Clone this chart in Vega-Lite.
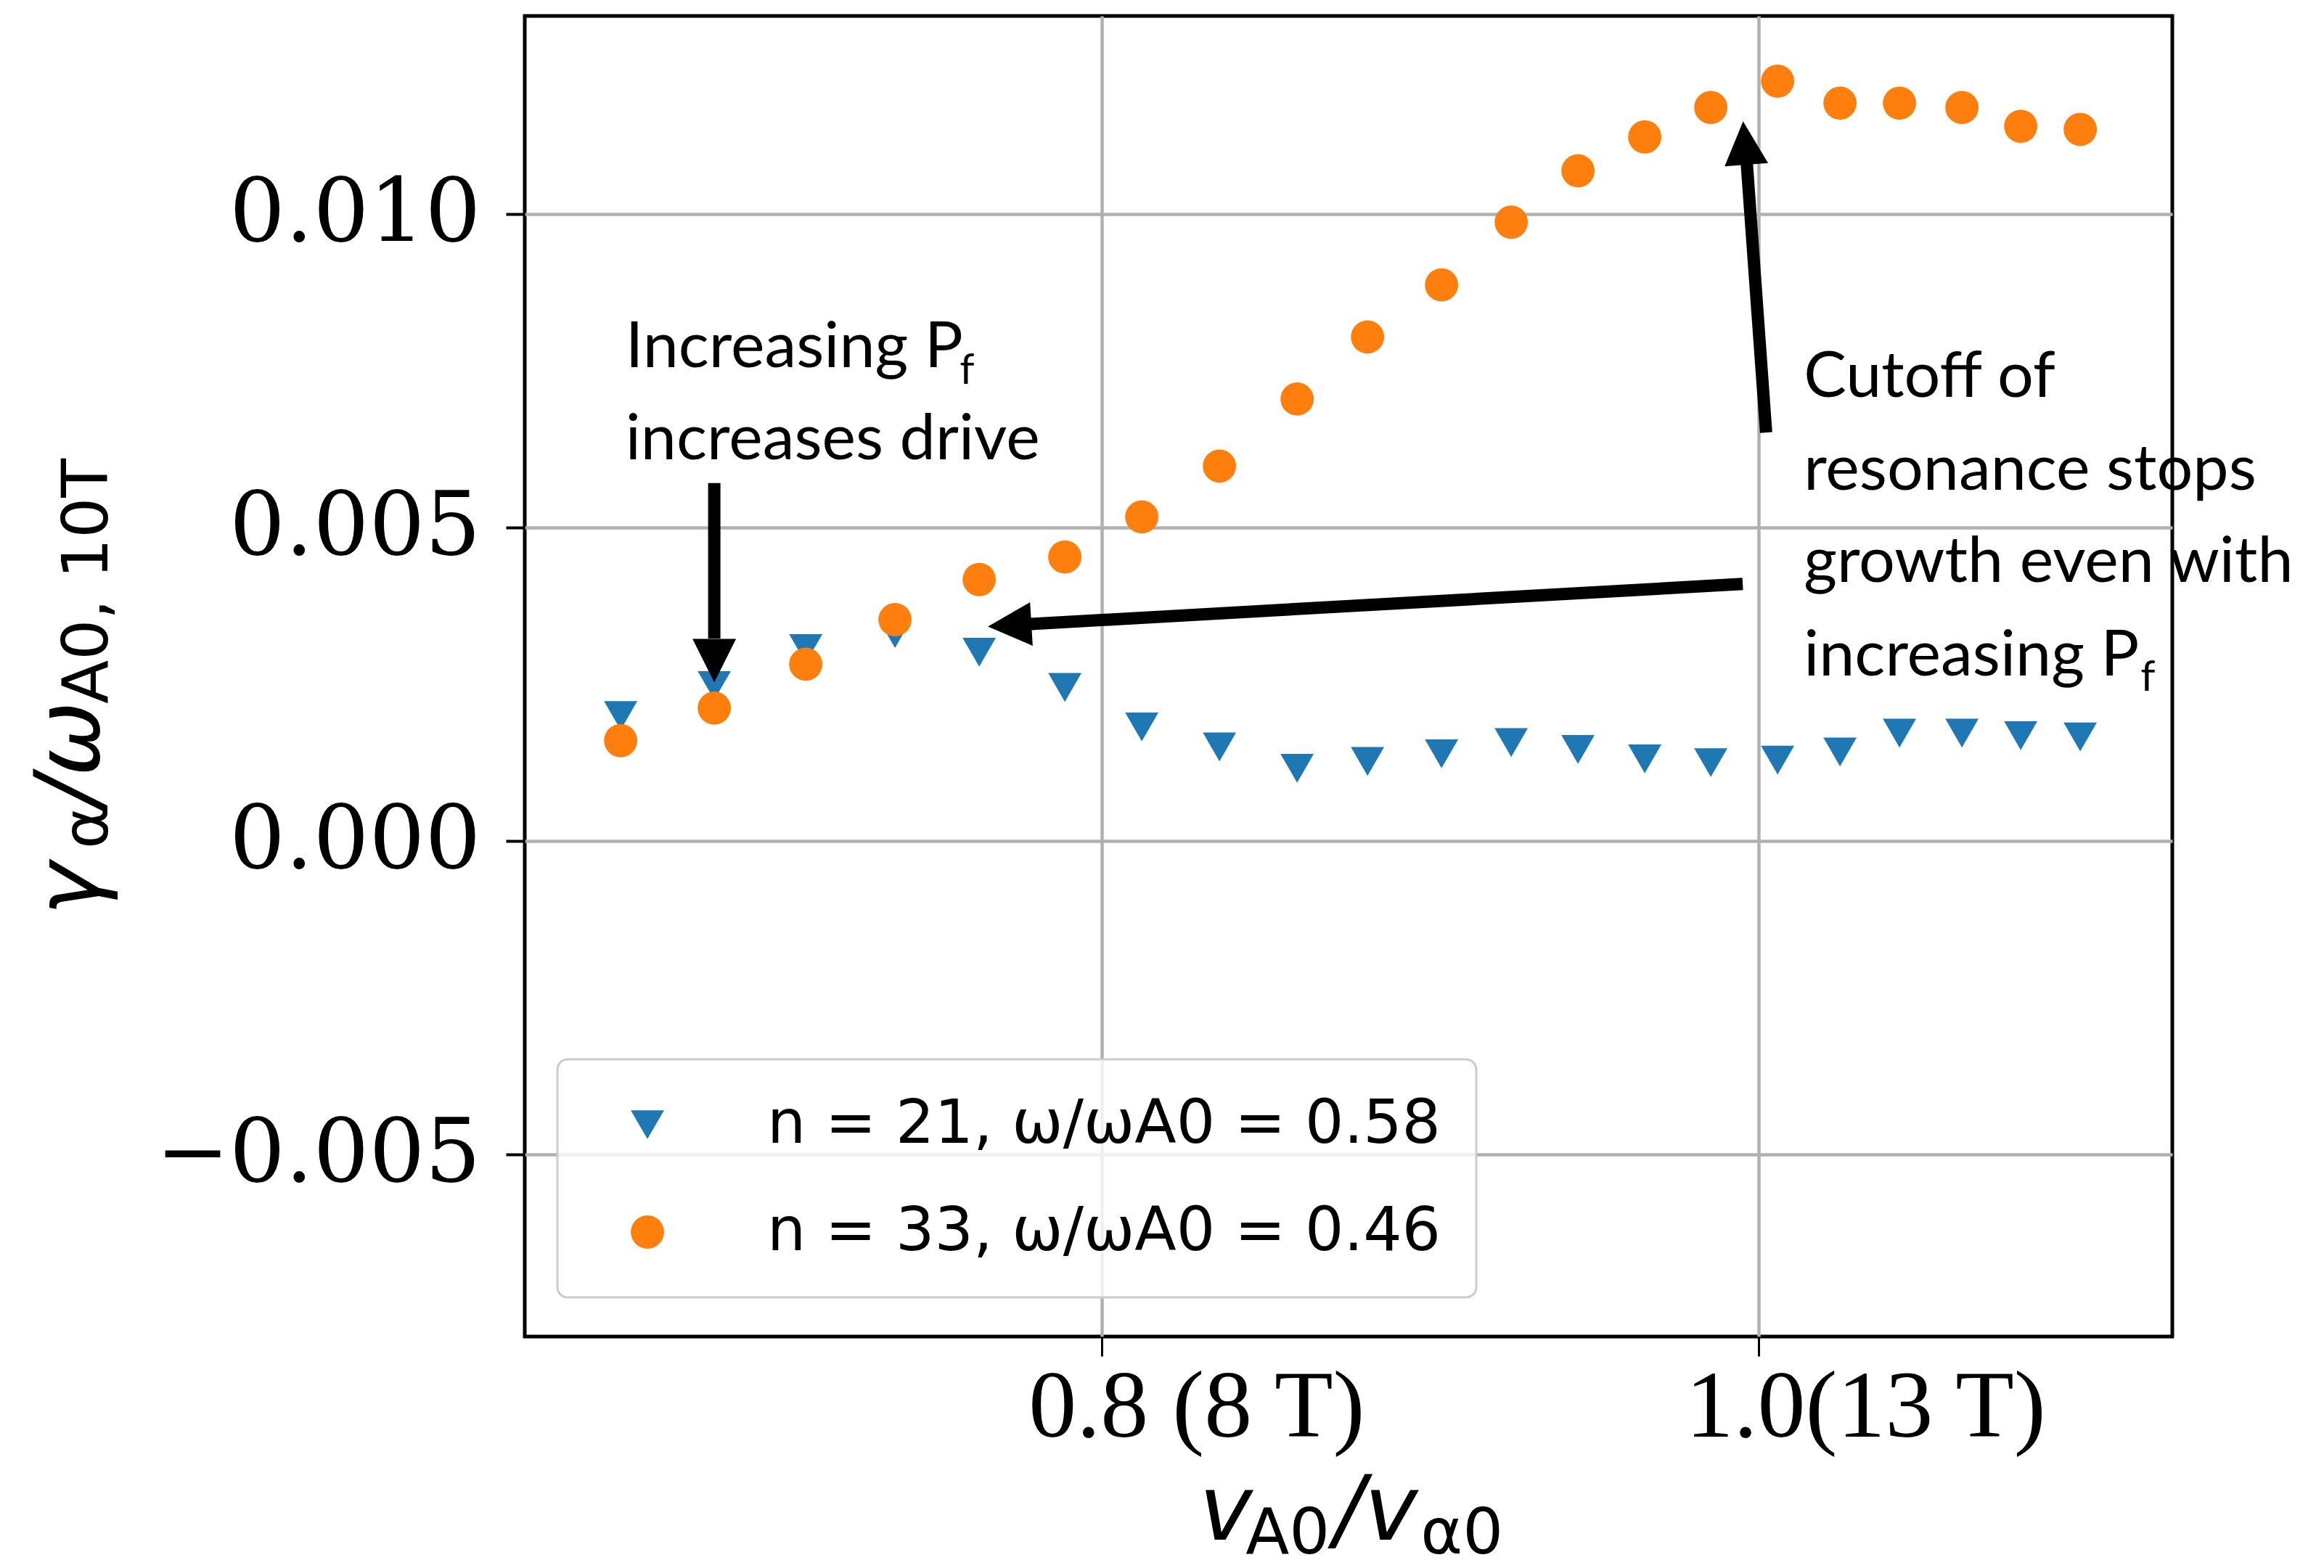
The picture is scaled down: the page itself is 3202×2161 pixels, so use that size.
{
  "$schema": "https://vega.github.io/schema/vega-lite/v6.json",
  "width": 2270,
  "height": 1820,
  "autosize": {"type": "none"},
  "padding": {"left": 723, "top": 22, "right": 209, "bottom": 319},
  "background": "white",
  "config": {
    "view": {"stroke": "black", "strokeWidth": 5},
    "axis": {"domain": false, "grid": true, "gridColor": "#b0b0b0", "gridWidth": 4.5, "gridOpacity": 1, "tickColor": "black", "labelColor": "black", "labelLimit": 3000},
    "legend": {"labelLimit": 3000, "strokeColor": "#cccccc", "strokeWidth": 3, "cornerRadius": 14, "fillColor": "rgba(255,255,255,0.8)", "padding": 48}
  },
  "layer": [
    {
      "data": {"values": [
        {"x": 0.65359, "y": 0.00200, "series": "n = 21, ω/ωA0 = 0.58"},
        {"x": 0.68209, "y": 0.00248, "series": "n = 21, ω/ωA0 = 0.58"},
        {"x": 0.70993, "y": 0.00307, "series": "n = 21, ω/ωA0 = 0.58"},
        {"x": 0.73710, "y": 0.00331, "series": "n = 21, ω/ωA0 = 0.58"},
        {"x": 0.76273, "y": 0.00301, "series": "n = 21, ω/ωA0 = 0.58"},
        {"x": 0.78880, "y": 0.00245, "series": "n = 21, ω/ωA0 = 0.58"},
        {"x": 0.81222, "y": 0.00182, "series": "n = 21, ω/ωA0 = 0.58"},
        {"x": 0.83586, "y": 0.00150, "series": "n = 21, ω/ωA0 = 0.58"},
        {"x": 0.85950, "y": 0.00116, "series": "n = 21, ω/ωA0 = 0.58"},
        {"x": 0.88093, "y": 0.00127, "series": "n = 21, ω/ωA0 = 0.58"},
        {"x": 0.90346, "y": 0.00139, "series": "n = 21, ω/ωA0 = 0.58"},
        {"x": 0.92467, "y": 0.00157, "series": "n = 21, ω/ωA0 = 0.58"},
        {"x": 0.94499, "y": 0.00146, "series": "n = 21, ω/ωA0 = 0.58"},
        {"x": 0.96532, "y": 0.00131, "series": "n = 21, ω/ωA0 = 0.58"},
        {"x": 0.98542, "y": 0.00125, "series": "n = 21, ω/ωA0 = 0.58"},
        {"x": 1.00575, "y": 0.00129, "series": "n = 21, ω/ωA0 = 0.58"},
        {"x": 1.02475, "y": 0.00142, "series": "n = 21, ω/ωA0 = 0.58"},
        {"x": 1.04286, "y": 0.00172, "series": "n = 21, ω/ωA0 = 0.58"},
        {"x": 1.06186, "y": 0.00172, "series": "n = 21, ω/ωA0 = 0.58"},
        {"x": 1.07976, "y": 0.00168, "series": "n = 21, ω/ωA0 = 0.58"},
        {"x": 1.09787, "y": 0.00166, "series": "n = 21, ω/ωA0 = 0.58"},
        {"x": 0.65359, "y": 0.00160, "series": "n = 33, ω/ωA0 = 0.46"},
        {"x": 0.68209, "y": 0.00212, "series": "n = 33, ω/ωA0 = 0.46"},
        {"x": 0.70993, "y": 0.00282, "series": "n = 33, ω/ωA0 = 0.46"},
        {"x": 0.73710, "y": 0.00353, "series": "n = 33, ω/ωA0 = 0.46"},
        {"x": 0.76273, "y": 0.00417, "series": "n = 33, ω/ωA0 = 0.46"},
        {"x": 0.78880, "y": 0.00453, "series": "n = 33, ω/ωA0 = 0.46"},
        {"x": 0.81222, "y": 0.00517, "series": "n = 33, ω/ωA0 = 0.46"},
        {"x": 0.83586, "y": 0.00598, "series": "n = 33, ω/ωA0 = 0.46"},
        {"x": 0.85950, "y": 0.00705, "series": "n = 33, ω/ωA0 = 0.46"},
        {"x": 0.88093, "y": 0.00804, "series": "n = 33, ω/ωA0 = 0.46"},
        {"x": 0.90346, "y": 0.00887, "series": "n = 33, ω/ωA0 = 0.46"},
        {"x": 0.92467, "y": 0.00987, "series": "n = 33, ω/ωA0 = 0.46"},
        {"x": 0.94499, "y": 0.01069, "series": "n = 33, ω/ωA0 = 0.46"},
        {"x": 0.96532, "y": 0.01123, "series": "n = 33, ω/ωA0 = 0.46"},
        {"x": 0.98542, "y": 0.01170, "series": "n = 33, ω/ωA0 = 0.46"},
        {"x": 1.00575, "y": 0.01212, "series": "n = 33, ω/ωA0 = 0.46"},
        {"x": 1.02475, "y": 0.01177, "series": "n = 33, ω/ωA0 = 0.46"},
        {"x": 1.04286, "y": 0.01177, "series": "n = 33, ω/ωA0 = 0.46"},
        {"x": 1.06186, "y": 0.01170, "series": "n = 33, ω/ωA0 = 0.46"},
        {"x": 1.07976, "y": 0.01140, "series": "n = 33, ω/ωA0 = 0.46"},
        {"x": 1.09787, "y": 0.01135, "series": "n = 33, ω/ωA0 = 0.46"}
      ]},
      "mark": {"type": "point", "filled": true, "opacity": 1, "size": 2100, "strokeWidth": 0},
      "encoding": {
        "x": {"field": "x", "type": "quantitative", "title": null,
          "scale": {"domain": [0.6244, 1.1259], "nice": false, "zero": false},
          "axis": {"values": [0.8, 1.0], "labelExpr": "datum.value < 0.9 ? '0.8 (8 T)' : '1.0(13 T)'", "labelFont": "Liberation Serif", "labelFontSize": 132, "labelAlign": "left", "labelOffset": -101, "labelBaseline": "alphabetic", "labelPadding": 110, "labelFlush": false, "tickSize": 27, "tickWidth": 3}},
        "y": {"field": "y", "type": "quantitative", "title": null,
          "scale": {"domain": [-0.007905, 0.01316], "nice": false, "zero": false},
          "axis": {"values": [-0.005, 0, 0.005, 0.01], "format": ".3f", "labelFont": "DejaVu Serif", "labelFontSize": 121, "labelPadding": 35, "labelBaseline": "middle", "tickSize": 26, "tickWidth": 4}},
        "color": {"field": "series", "type": "nominal",
          "scale": {"domain": ["n = 21, ω/ωA0 = 0.58", "n = 33, ω/ωA0 = 0.46"], "range": ["#1f77b4", "#ff7f0e"]},
          "legend": {"title": null, "orient": "none", "legendX": 45, "legendY": 1438, "labelFont": "DejaVu Sans", "labelFontSize": 84, "symbolSize": 2100, "symbolOffset": 34, "labelOffset": 123, "rowPadding": 64, "symbolStrokeWidth": 0}},
        "shape": {"field": "series", "type": "nominal",
          "scale": {"domain": ["n = 21, ω/ωA0 = 0.58", "n = 33, ω/ωA0 = 0.46"], "range": ["triangle-down", "circle"]},
          "legend": {"title": null, "orient": "none", "legendX": 45, "legendY": 1438, "labelFont": "DejaVu Sans", "labelFontSize": 84, "symbolSize": 2100, "symbolOffset": 34, "labelOffset": 123, "rowPadding": 64, "symbolStrokeWidth": 0}}
      }
    },
    {
      "data": {"values": [
        {"x": 0.68209, "y": 0.00571, "x2": 0.68209, "y2": 0.00323},
        {"x": 1.00226, "y": 0.006516, "x2": 0.99636, "y2": 0.010822},
        {"x": 0.99514, "y": 0.0041, "x2": 0.77842, "y2": 0.003461}
      ]},
      "mark": {"type": "rule", "color": "black", "strokeWidth": 17, "strokeCap": "butt"},
      "encoding": {
        "x": {"field": "x", "type": "quantitative", "title": null},
        "y": {"field": "y", "type": "quantitative", "title": null},
        "x2": {"field": "x2"},
        "y2": {"field": "y2"}
      }
    },
    {
      "data": {"values": [{"x": 0.68209, "y": 0.00253}]},
      "mark": {"type": "point", "shape": "M0,0L1,2L-1,2Z", "filled": true, "opacity": 1, "color": "black", "size": 3600, "angle": 180, "strokeWidth": 0},
      "encoding": {"x": {"field": "x", "type": "quantitative", "title": null}, "y": {"field": "y", "type": "quantitative", "title": null}}
    },
    {
      "data": {"values": [{"x": 0.99525, "y": 0.011479}]},
      "mark": {"type": "point", "shape": "M0,0L1,2L-1,2Z", "filled": true, "opacity": 1, "color": "black", "size": 3600, "angle": 355.7, "strokeWidth": 0},
      "encoding": {"x": {"field": "x", "type": "quantitative", "title": null}, "y": {"field": "y", "type": "quantitative", "title": null}}
    },
    {
      "data": {"values": [{"x": 0.76538, "y": 0.003419}]},
      "mark": {"type": "point", "shape": "M0,0L1,2L-1,2Z", "filled": true, "opacity": 1, "color": "black", "size": 3600, "angle": 266.5, "strokeWidth": 0},
      "encoding": {"x": {"field": "x", "type": "quantitative", "title": null}, "y": {"field": "y", "type": "quantitative", "title": null}}
    },
    {
      "data": {"values": [
        {"x": 0.65505, "y": 0.007558, "label": "Increasing P"},
        {"x": 0.65505, "y": 0.006088, "label": "increases drive"},
        {"x": 1.01370, "y": 0.007083, "label": "Cutoff of"},
        {"x": 1.01370, "y": 0.005602, "label": "resonance stops"},
        {"x": 1.01370, "y": 0.004132, "label": "growth even with"},
        {"x": 1.01370, "y": 0.002639, "label": "increasing P"}
      ]},
      "mark": {"type": "text", "font": "Lato", "fontSize": 88, "align": "left", "baseline": "alphabetic", "color": "black"},
      "encoding": {"x": {"field": "x", "type": "quantitative", "title": null}, "y": {"field": "y", "type": "quantitative", "title": null}, "text": {"field": "label"}}
    },
    {
      "data": {"values": [
        {"x": 0.75677, "y": 0.007292, "label": "f"},
        {"x": 1.11621, "y": 0.002396, "label": "f"}
      ]},
      "mark": {"type": "text", "font": "Lato", "fontSize": 58, "align": "left", "baseline": "alphabetic", "color": "black"},
      "encoding": {"x": {"field": "x", "type": "quantitative", "title": null}, "y": {"field": "y", "type": "quantitative", "title": null}, "text": {"field": "label"}}
    },
    {
      "data": {"values": [
        {"x": 0.82967, "y": -0.01115, "label": "v"},
        {"x": 0.87076, "y": -0.01115, "label": "/v"}
      ]},
      "mark": {"type": "text", "font": "DejaVu Sans", "fontStyle": "italic", "fontSize": 124, "align": "left", "baseline": "alphabetic", "color": "black"},
      "encoding": {"x": {"field": "x", "type": "quantitative", "title": null}, "y": {"field": "y", "type": "quantitative", "title": null}, "text": {"field": "label"}}
    },
    {
      "data": {"values": [
        {"x": 0.84381, "y": -0.01136, "label": "A0"},
        {"x": 0.89705, "y": -0.01136, "label": "α0"}
      ]},
      "mark": {"type": "text", "font": "DejaVu Sans", "fontSize": 88, "align": "left", "baseline": "alphabetic", "color": "black"},
      "encoding": {"x": {"field": "x", "type": "quantitative", "title": null}, "y": {"field": "y", "type": "quantitative", "title": null}, "text": {"field": "label"}}
    },
    {
      "data": {"values": [
        {"x": 0.49475, "y": -0.001192, "label": "γ"},
        {"x": 0.49475, "y": 0.000544, "label": "/ω"}
      ]},
      "mark": {"type": "text", "font": "DejaVu Sans", "fontStyle": "italic", "fontSize": 124, "align": "left", "baseline": "alphabetic", "angle": 270, "color": "black"},
      "encoding": {"x": {"field": "x", "type": "quantitative", "title": null}, "y": {"field": "y", "type": "quantitative", "title": null}, "text": {"field": "label"}}
    },
    {
      "data": {"values": [
        {"x": 0.49740, "y": -0.000127, "label": "α"},
        {"x": 0.49740, "y": 0.002188, "label": "A0, 10T"}
      ]},
      "mark": {"type": "text", "font": "DejaVu Sans", "fontSize": 88, "align": "left", "baseline": "alphabetic", "angle": 270, "color": "black"},
      "encoding": {"x": {"field": "x", "type": "quantitative", "title": null}, "y": {"field": "y", "type": "quantitative", "title": null}, "text": {"field": "label"}}
    }
  ]
}
